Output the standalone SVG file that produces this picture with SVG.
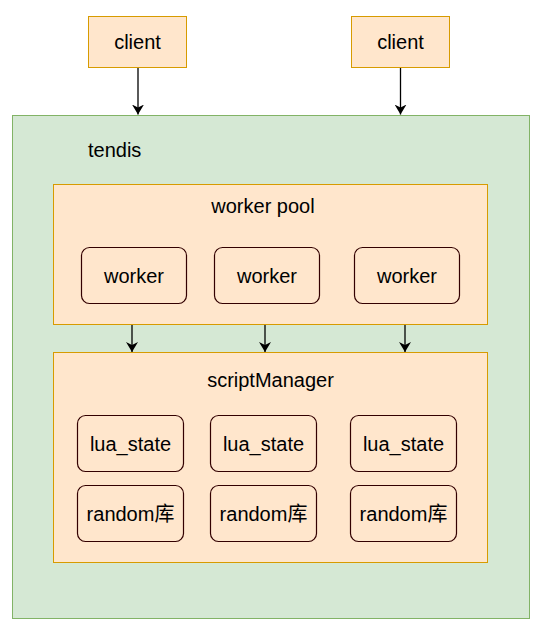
<svg xmlns="http://www.w3.org/2000/svg" width="548" height="632" viewBox="0 0 548 632">
<defs>
<style>
.t{font-family:"Liberation Sans",Arial,sans-serif;font-size:20px;fill:#000;}
.c{text-anchor:middle;}
.org{fill:#ffe6cc;stroke:#d79b00;stroke-width:1;}
.grn{fill:#d5e8d4;stroke:#82b366;stroke-width:1;}
.rb{fill:#ffe6cc;stroke:#330000;stroke-width:1.2;}
.ln{stroke:#000;stroke-width:1.3;fill:none;}
.cjk{font-family:"Liberation Sans",Arial,"Noto Sans CJK SC",sans-serif;}
</style>
<marker id="ah" viewBox="0 0 10 12" refX="10" refY="6" markerWidth="10" markerHeight="12" markerUnits="userSpaceOnUse" orient="auto">
<path d="M0,0 L10,6 L0,12 L3,6 Z" fill="#000"/>
</marker>
</defs>
<rect width="548" height="632" fill="#fff"/>
<g id="tendis">
<rect class="grn" x="12.5" y="115.5" width="517" height="503"/>
<text class="t" x="88" y="157">tendis</text>
</g>
<g id="client1">
<rect class="org" x="88.5" y="16.5" width="98" height="51"/>
<text class="t c" x="137.5" y="49">client</text>
</g>
<g id="client2">
<rect class="org" x="351.5" y="16.5" width="98" height="51"/>
<text class="t c" x="400.5" y="49">client</text>
</g>
<g id="workerPool">
<rect class="org" x="53.5" y="184.5" width="434" height="140"/>
<text class="t c" x="263" y="213">worker pool</text>
</g>
<g id="worker1">
<rect class="rb" x="81.5" y="247.5" width="105" height="56" rx="8"/>
<text class="t c" x="134" y="283">worker</text>
</g>
<g id="worker2">
<rect class="rb" x="214.5" y="247.5" width="105" height="56" rx="8"/>
<text class="t c" x="267" y="283">worker</text>
</g>
<g id="worker3">
<rect class="rb" x="354.5" y="247.5" width="105" height="56" rx="8"/>
<text class="t c" x="407" y="283">worker</text>
</g>
<g id="scriptManager">
<rect class="org" x="53.5" y="352.5" width="434" height="210"/>
<text class="t c" x="270.5" y="387">scriptManager</text>
</g>
<g id="lua1">
<rect class="rb" x="77.5" y="415.5" width="106" height="56" rx="8"/>
<text class="t c" x="130.5" y="451">lua_state</text>
</g>
<g id="lua2">
<rect class="rb" x="210.5" y="415.5" width="106" height="56" rx="8"/>
<text class="t c" x="263.5" y="451">lua_state</text>
</g>
<g id="lua3">
<rect class="rb" x="350.5" y="415.5" width="106" height="56" rx="8"/>
<text class="t c" x="403.5" y="451">lua_state</text>
</g>
<g id="random1">
<rect class="rb" x="77.5" y="485.5" width="106" height="56" rx="8"/>
<text class="t c cjk" x="130.5" y="521">random库</text>
</g>
<g id="random2">
<rect class="rb" x="210.5" y="485.5" width="106" height="56" rx="8"/>
<text class="t c cjk" x="263.5" y="521">random库</text>
</g>
<g id="random3">
<rect class="rb" x="350.5" y="485.5" width="106" height="56" rx="8"/>
<text class="t c cjk" x="403.5" y="521">random库</text>
</g>
<g id="connectors">
<line class="ln" x1="138" y1="68" x2="138" y2="114.5" marker-end="url(#ah)"/>
<line class="ln" x1="400.5" y1="68" x2="400.5" y2="114.5" marker-end="url(#ah)"/>
<line class="ln" x1="132" y1="325" x2="132" y2="352" marker-end="url(#ah)"/>
<line class="ln" x1="265" y1="325" x2="265" y2="352" marker-end="url(#ah)"/>
<line class="ln" x1="405" y1="325" x2="405" y2="352" marker-end="url(#ah)"/>
</g>
</svg>
